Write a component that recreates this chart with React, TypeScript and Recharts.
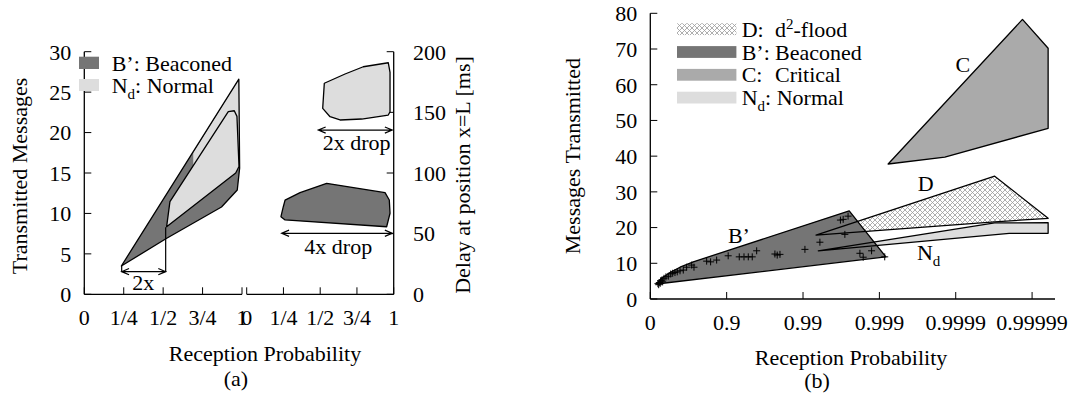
import React from 'react';
import { ScatterChart, Scatter, XAxis, YAxis, Legend, Label } from 'recharts';

const FONT = '"Liberation Serif", "Times New Roman", Times, serif';
const DARK = '#757575';
const MID = '#aaaaaa';
const LIGHT = '#dddddd';
const HATCH = '#9a9a9a';

type P = { x: number; y: number; text?: string; sub?: string };
const pts = (rows: number[][]): P[] => rows.map(([x, y]) => ({ x, y }));

// ---- (a) left: transmitted messages vs reception probability
const aTicks = [0, 0.25, 0.5, 0.75, 1];
const aTickLabels = ['0', '1/4', '1/2', '3/4', '1'];
const aMsgTicks = [0, 5, 10, 15, 20, 25, 30];
const aBeaconed = pts([[0.235, 3.5], [0.98, 26.6], [0.985, 15.6], [0.97, 12.9], [0.87, 10.8], [0.52, 6.9]]);
const aNormalWedge = pts([[0.691, 17.5], [0.98, 26.6], [0.983, 15.6], [0.691, 15.8]]);
const aNormal = pts([[0.522, 8.36], [0.543, 11.45], [0.913, 22.6], [0.951, 22.7], [0.968, 22.0], [0.981, 15.8], [0.96, 15.0]]);
const aDropLeft = pts([[0.237, 3.5], [0.237, 2.8]]);
const aDropRight = pts([[0.516, 8.3], [0.516, 2.8]]);
const aArrow2x = pts([[0.237, 2.8], [0.516, 2.8]]);
const aNotes: P[] = [{ x: 0.374, y: 1.46, text: '2x' }];

// ---- (a) right: delay at position x=L
const aDelayTicks = [0, 50, 100, 150, 200];
const aDelayNormal = pts([[0.528, 174], [0.669, 181.6], [0.793, 187.6], [0.963, 190.9], [0.975, 183], [0.975, 150.5],
  [0.963, 147.8], [0.782, 144.5], [0.635, 143.7], [0.567, 146.4], [0.517, 153.3]]);
const aDelayBeaconed = pts([[0.261, 77.7], [0.363, 83.8], [0.544, 91.5], [0.941, 83.8], [0.97, 77.7], [0.975, 66.8],
  [0.952, 55.7], [0.261, 61.3], [0.233, 64], [0.249, 72.2]]);
const aArrowDrop2 = pts([[0.487, 135.4], [0.99, 135.4]]);
const aArrowDrop4 = pts([[0.238, 50.3], [0.99, 50.3]]);
const aDelayNotes: P[] = [
  { x: 0.748, y: 125.6, text: '2x drop' },
  { x: 0.623, y: 39.8, text: '4x drop' },
];

// ---- (b): messages transmitted, x = -log10(1 - p)
const bTicks = [0, 1, 2, 3, 4, 5];
const bTickLabels = ['0', '0.9', '0.99', '0.999', '0.9999', '0.99999'];
const bMsgTicks = [0, 10, 20, 30, 40, 50, 60, 70, 80];
const bCritical = pts([[3.115, 37.8], [3.857, 39.7], [5.21, 47.8], [5.21, 70.2], [4.874, 78.3]]);
const bFlood = pts([[2.17, 17.9], [4.51, 34.4], [5.21, 22.6], [4.51, 21.6]]);
const bNormal = pts([[2.2, 13.5], [4.51, 21.3], [5.21, 21.4], [5.21, 18.4], [4.7, 18.4]]);
const bBeaconed = pts([[0.084, 4.2], [0.149, 5.8], [0.258, 7.4], [0.389, 8.9], [0.563, 10.4], [2.605, 24.7], [3.085, 11.8]]);
const bSamples = pts([[0.1, 4.3], [0.11, 4.0], [0.118, 4.6], [0.13, 4.4], [0.136, 5.1], [0.15, 5.3], [0.162, 4.8],
  [0.179, 5.8], [0.205, 6.2], [0.236, 6.4], [0.267, 7.0], [0.293, 7.2], [0.323, 7.4], [0.353, 7.6], [0.389, 7.9],
  [0.432, 8.1], [0.476, 8.9], [0.542, 9.5], [0.572, 8.9], [0.738, 10.6], [0.79, 10.4], [0.869, 10.9], [1.02, 12.1],
  [1.165, 11.8], [1.227, 11.8], [1.283, 11.8], [1.335, 11.8], [1.393, 13.5], [1.632, 12.6], [1.662, 12.3],
  [1.698, 12.5], [2.025, 13.9], [2.221, 15.9], [2.548, 18.1], [2.49, 22.1], [2.526, 22.3], [2.59, 23.2],
  [2.745, 12.8], [2.788, 11.7], [2.898, 13.5], [3.07, 11.8]]);
const bNotes: P[] = [
  { x: 1.161, y: 17.8, text: 'B\u2019' },
  { x: 4.093, y: 65.8, text: 'C' },
  { x: 3.606, y: 32.4, text: 'D' },
  { x: 3.596, y: 13.2, text: 'N', sub: 'd' },
];

// ---- shared styles
const axisLineStyle = { stroke: '#000', strokeWidth: 1.3 };
const tickLineStyle = { stroke: '#000', strokeWidth: 1 };
const tickStyle = { fill: '#000', fontSize: 22 };
const labelStyle = { fill: '#000', fontSize: 22 };

const ptsAttr = (points: any[]) => points.map((p) => `${p.x},${p.y}`).join(' ');

const polygonLine = (fill: string, stroke: string) => (props: any) => (
  <polygon points={ptsAttr(props.points)} fill={fill} stroke={stroke} strokeWidth={1.3} strokeLinejoin="round" />
);

const hatchPolygon = (props: any) => (
  <g>
    <defs>
      <pattern id="hatchPlot" width={5} height={5} patternUnits="userSpaceOnUse">
        <rect width={5} height={5} fill="#fff" />
        <path d="M0,0L5,5M5,0L0,5" stroke={HATCH} strokeWidth={0.8} />
      </pattern>
    </defs>
    <polygon points={ptsAttr(props.points)} fill="url(#hatchPlot)" stroke="none" />
  </g>
);

const openLine = (props: any) => (
  <polyline points={ptsAttr(props.points)} fill="none" stroke="#000" strokeWidth={1.2} />
);

const arrowLine = (props: any) => {
  const [a, b] = props.points;
  const ang = Math.atan2(b.y - a.y, b.x - a.x);
  const L = 8;
  const w = 0.4;
  const head = (p: any, dir: number) =>
    `M${p.x + dir * L * Math.cos(ang + w)},${p.y + dir * L * Math.sin(ang + w)}L${p.x},${p.y}` +
    `L${p.x + dir * L * Math.cos(ang - w)},${p.y + dir * L * Math.sin(ang - w)}`;
  return (
    <path
      d={`M${a.x},${a.y}L${b.x},${b.y}${head(b, -1)}${head(a, 1)}`}
      fill="none"
      stroke="#000"
      strokeWidth={1.2}
    />
  );
};

const hidden = () => <g />;

const plusShape = (props: any) => (
  <path d={`M${props.cx - 3.5},${props.cy}h7M${props.cx},${props.cy - 3.5}v7`} stroke="#000" strokeWidth={1} />
);

const textShape = (props: any) => {
  const d = props.payload;
  if (d.sub) {
    return (
      <text x={props.cx - 8} y={props.cy} dy="0.35em" fontSize={22} fill="#000">
        {d.text}
        <tspan dy={6} fontSize={15}>{d.sub}</tspan>
      </text>
    );
  }
  return (
    <text x={props.cx} y={props.cy} dy="0.35em" textAnchor="middle" fontSize={22} fill="#000">
      {d.text}
    </text>
  );
};

const shapeSeries = (key: string, data: P[], line: any, ids: any = {}) => (
  <Scatter key={key} data={data} line={line} lineType="joint" shape={hidden} legendType="none" isAnimationActive={false} {...ids} />
);

const textSeries = (key: string, data: P[], ids: any = {}) => (
  <Scatter key={key} data={data} shape={textShape} legendType="none" isAnimationActive={false} {...ids} />
);

// ---- legends
const LegendA = () => (
  <svg width={200} height={46} style={{ display: 'block', overflow: 'visible' }}>
    <rect x={0} y={6.7} width={20} height={12.3} fill={DARK} />
    <text x={32.7} y={20.5} fontSize={22} fill="#000">B’: Beaconed</text>
    <rect x={0} y={29} width={20} height={12} fill={LIGHT} />
    <text x={32.7} y={42.5} fontSize={22} fill="#000">
      N<tspan dy={6} fontSize={15}>d</tspan><tspan dy={-6}>: Normal</tspan>
    </text>
  </svg>
);

const bLegendRows = [
  { key: 'D:', fill: 'url(#hatchLegend)' },
  { key: 'B’:', fill: DARK },
  { key: 'C:', fill: MID },
  { key: 'N', fill: LIGHT },
];

const LegendB = () => (
  <svg width={260} height={95} style={{ display: 'block', overflow: 'visible' }}>
    <defs>
      <pattern id="hatchLegend" width={5} height={5} patternUnits="userSpaceOnUse">
        <rect width={5} height={5} fill="#fff" />
        <path d="M0,0L5,5M5,0L0,5" stroke={HATCH} strokeWidth={0.8} />
      </pattern>
    </defs>
    {bLegendRows.map((r, i) => {
      const cy = 11.2 + i * 22.8;
      return <rect key={r.key} x={0} y={cy - 5.9} width={59.4} height={11.8} fill={r.fill} />;
    })}
    <text x={64.7} y={11.2 + 7.5} fontSize={22} fill="#000">D:</text>
    <text x={98} y={11.2 + 7.5} fontSize={22} fill="#000">
      d<tspan dy={-8} fontSize={15}>2</tspan><tspan dy={8}>-flood</tspan>
    </text>
    <text x={64.7} y={34 + 7.5} fontSize={22} fill="#000">B’:</text>
    <text x={98} y={34 + 7.5} fontSize={22} fill="#000">Beaconed</text>
    <text x={64.7} y={56.8 + 7.5} fontSize={22} fill="#000">C:</text>
    <text x={98} y={56.8 + 7.5} fontSize={22} fill="#000">Critical</text>
    <text x={64.7} y={79.6 + 7.5} fontSize={22} fill="#000">
      N<tspan dy={6} fontSize={15}>d</tspan><tspan dy={-6}>: Normal</tspan>
    </text>
  </svg>
);

// ---- charts
const W = 1070;
const H = 394;

function ChartALeft() {
  return (
    <ScatterChart width={W} height={H} margin={{ top: 51.7, right: 828, bottom: 59.7, left: 0 }}>
      <XAxis type="number" dataKey="x" domain={[0, 1]} ticks={aTicks} interval={0}
        tickFormatter={(v) => aTickLabels[aTicks.indexOf(v)]} height={40} tickSize={-7} tickMargin={22}
        axisLine={axisLineStyle} tickLine={tickLineStyle} tick={tickStyle}>
        <Label value="Reception Probability" position="center" dx={101.8} dy={38.7} {...labelStyle} />
        <Label value="(a)" position="center" dx={72.8} dy={63.7} {...labelStyle} />
      </XAxis>
      <XAxis xAxisId="top" orientation="top" type="number" domain={[0, 1]} height={0}
        tick={false} tickLine={false} axisLine={axisLineStyle} />
      <YAxis type="number" dataKey="y" domain={[0, 30]} ticks={aMsgTicks} interval={0} width={84.3}
        tickSize={-7} tickMargin={20} axisLine={axisLineStyle} tickLine={tickLineStyle} tick={tickStyle}>
        <Label value="Transmitted Messages" angle={-90} position="center" dx={-22.7} dy={3} {...labelStyle} />
      </YAxis>
      <YAxis yAxisId="right" orientation="right" type="number" domain={[0, 30]} ticks={aMsgTicks.slice(1, -1)}
        width={0} tick={false} tickSize={-7} axisLine={axisLineStyle} tickLine={tickLineStyle} />
      {shapeSeries('beaconed', aBeaconed, polygonLine(DARK, 'none'))}
      {shapeSeries('normalWedge', aNormalWedge, polygonLine(LIGHT, 'none'))}
      {shapeSeries('beaconedOutline', aBeaconed, polygonLine('none', '#000'))}
      {shapeSeries('normal', aNormal, polygonLine(LIGHT, '#000'))}
      {shapeSeries('dropLeft', aDropLeft, openLine)}
      {shapeSeries('dropRight', aDropRight, openLine)}
      {shapeSeries('arrow2x', aArrow2x, arrowLine)}
      {textSeries('notes', aNotes)}
      <Legend layout="vertical" align="center" verticalAlign="middle"
        wrapperStyle={{ left: 79, top: 50, width: 200, height: 46 }} content={() => <LegendA />} />
    </ScatterChart>
  );
}

function ChartARight() {
  return (
    <ScatterChart width={W} height={H} margin={{ top: 51.7, right: 596.3, bottom: 59.7, left: 246.7 }}>
      <XAxis type="number" dataKey="x" domain={[0, 1]} ticks={aTicks} interval={0}
        tickFormatter={(v) => aTickLabels[aTicks.indexOf(v)]} height={40} tickSize={-7} tickMargin={22}
        axisLine={axisLineStyle} tickLine={tickLineStyle} tick={tickStyle} />
      <XAxis xAxisId="top" orientation="top" type="number" domain={[0, 1]} height={0}
        tick={false} tickLine={false} axisLine={axisLineStyle} />
      <YAxis yAxisId="left" orientation="left" type="number" domain={[0, 200]} width={0}
        tick={false} tickLine={false} axisLine={axisLineStyle} />
      <YAxis type="number" dataKey="y" orientation="right" domain={[0, 200]} ticks={aDelayTicks} interval={0}
        width={80} tickSize={-7} tickMargin={26.3} axisLine={axisLineStyle} tickLine={tickLineStyle} tick={tickStyle}>
        <Label value="Delay at position x=L [ms]" angle={-90} position="center" dx={28.8} dy={2} {...labelStyle} />
      </YAxis>
      {shapeSeries('delayNormal', aDelayNormal, polygonLine(LIGHT, '#000'))}
      {shapeSeries('delayBeaconed', aDelayBeaconed, polygonLine(DARK, '#000'))}
      {shapeSeries('drop2', aArrowDrop2, arrowLine)}
      {shapeSeries('drop4', aArrowDrop4, arrowLine)}
      {textSeries('delayNotes', aDelayNotes)}
    </ScatterChart>
  );
}

function ChartB() {
  return (
    <ScatterChart width={W} height={H} margin={{ top: 13.3, right: 15, bottom: 35, left: 550.3 }}>
      <XAxis type="number" dataKey="x" domain={[0, 5.3]} ticks={bTicks} interval={0}
        tickFormatter={(v) => bTickLabels[bTicks.indexOf(v)]} height={60} tickSize={-7} tickMargin={22}
        axisLine={axisLineStyle} tickLine={tickLineStyle} tick={tickStyle}>
        <Label value="Reception Probability" position="center" dx={-1.6} dy={28} {...labelStyle} />
        <Label value="(b)" position="center" dx={-35.6} dy={51} {...labelStyle} />
      </XAxis>
      <XAxis xAxisId="top" orientation="top" type="number" domain={[0, 5.3]} ticks={bTicks.slice(1)} height={0}
        tick={false} tickSize={-7} axisLine={axisLineStyle} tickLine={tickLineStyle} />
      <YAxis type="number" dataKey="y" domain={[0, 80]} ticks={bMsgTicks} interval={0} width={100}
        tickSize={-7} tickMargin={20} axisLine={axisLineStyle} tickLine={tickLineStyle} tick={tickStyle}>
        <Label value="Messages Transmitted" angle={-90} position="center" dx={-28.3} dy={0} {...labelStyle} />
      </YAxis>
      <YAxis yAxisId="right" orientation="right" type="number" domain={[0, 80]} ticks={bMsgTicks.slice(1, -1)}
        width={0} tick={false} tickSize={-7} axisLine={axisLineStyle} tickLine={tickLineStyle} />
      {shapeSeries('critical', bCritical, polygonLine(MID, '#000'))}
      {shapeSeries('flood', bFlood, hatchPolygon)}
      {shapeSeries('normal', bNormal, polygonLine(LIGHT, 'none'))}
      {shapeSeries('beaconed', bBeaconed, polygonLine(DARK, '#000'))}
      {shapeSeries('floodOutline', bFlood, polygonLine('none', '#000'))}
      {shapeSeries('normalOutline', bNormal, polygonLine('none', '#000'))}
      <Scatter data={bSamples} shape={plusShape} legendType="none" isAnimationActive={false} />
      {textSeries('notes', bNotes)}
      <Legend layout="vertical" align="center" verticalAlign="middle"
        wrapperStyle={{ left: 677, top: 18, width: 260, height: 95 }} content={() => <LegendB />} />
    </ScatterChart>
  );
}

export default function App() {
  return (
    <div style={{ position: 'absolute', left: 0, top: 0, width: W, height: H, fontFamily: FONT, background: '#fff' }}>
      <div style={{ position: 'absolute', left: 0, top: 0 }}><ChartALeft /></div>
      <div style={{ position: 'absolute', left: 0, top: 0 }}><ChartARight /></div>
      <div style={{ position: 'absolute', left: 0, top: 0 }}><ChartB /></div>
    </div>
  );
}
